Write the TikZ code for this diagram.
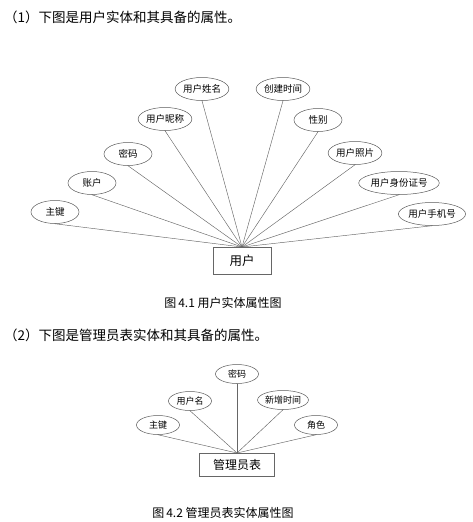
\documentclass[tikz,border=0pt]{standalone}
\usepackage{fontspec}
\setmainfont{Noto Sans CJK SC}
\usetikzlibrary{shapes.geometric}
\begin{document}
\begin{tikzpicture}[x=1pt,y=-1pt,
  attr/.style={ellipse,draw=black!65,line width=0.5pt,inner sep=0pt,minimum height=23pt,minimum width=48pt,font=\fontsize{9.5}{9.5}\selectfont},
  attrs/.style={ellipse,draw=black!65,line width=0.5pt,inner sep=0pt,minimum height=19pt,minimum width=43pt,font=\fontsize{9}{9}\selectfont},
  ent/.style={rectangle,draw=black!60,line width=0.6pt,inner sep=0pt,font=\fontsize{12.5}{12.5}\selectfont},
  edge/.style={draw=black!60,line width=0.45pt},
  head/.style={anchor=west,inner sep=0pt,font=\fontsize{13.5}{13.5}\selectfont},
  captext/.style={inner sep=0pt,font=\fontsize{12}{12}\selectfont}]
\useasboundingbox (0,0) rectangle (473,522);

\node[head] (t1) at (4,17) {（1）下图是用户实体和其具备的属性。};

\node[ent,minimum width=58pt,minimum height=27pt] (u) at (242,260.5) {用户};
\coordinate (hub1) at (242,247);

\node[attr] (a1) at (55,212) {主键};
\node[attr] (a2) at (92,183) {账户};
\node[attr] (a3) at (128,154) {密码};
\node[attr] (a4) at (165,119) {用户昵称};
\node[attr] (a5) at (202,89) {用户姓名};
\node[attr] (a6) at (283,89) {创建时间};
\node[attr] (a7) at (318,120) {性别};
\node[attr] (a8) at (355,153) {用户照片};
\node[attr,minimum width=63pt] (a9) at (399,183) {用户身份证号};
\node[attr,minimum width=54pt] (a10) at (432,214) {用户手机号};

\foreach \n in {a1,a2,a3,a4,a5,a6,a7,a8,a9,a10}
  \draw[edge] (\n.south) -- (hub1);

\node[captext] (c1) at (223,303) {图\,4.1\ 用户实体属性图};

\node[head] (t2) at (4,335) {（2）下图是管理员表实体和其具备的属性。};

\node[ent,minimum width=75pt,minimum height=23pt,font=\fontsize{12}{12}\selectfont] (m) at (237,465) {管理员表};
\coordinate (hub2) at (237,453);

\node[attrs] (b1) at (158,425) {主键};
\node[attrs] (b2) at (190,401) {用户名};
\node[attrs] (b3) at (237,374) {密码};
\node[attrs,minimum width=45pt] (b4) at (283,400) {新增时间};
\node[attrs] (b5) at (316,425) {角色};

\foreach \n in {b1,b2,b3,b4,b5}
  \draw[edge] (\n.south) -- (hub2);

\node[captext] (c2) at (223,513) {图\,4.2\ 管理员表实体属性图};
\end{tikzpicture}
\end{document}
